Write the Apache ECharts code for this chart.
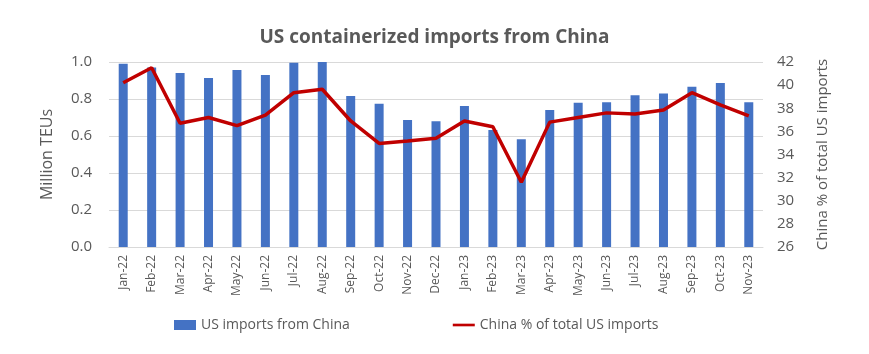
<!DOCTYPE html>
<html><head><meta charset="utf-8">
<script src="https://cdn.jsdelivr.net/npm/echarts@6/dist/echarts.min.js"></script>
<style>html,body{margin:0;padding:0;background:#fff}#c{width:869px;height:354px}</style>
</head><body><div id="c"></div>
<script>
const categories = ["Jan-22","Feb-22","Mar-22","Apr-22","May-22","Jun-22","Jul-22","Aug-22","Sep-22","Oct-22","Nov-22","Dec-22","Jan-23","Feb-23","Mar-23","Apr-23","May-23","Jun-23","Jul-23","Aug-23","Sep-23","Oct-23","Nov-23"];
const importsMillionTEU = [0.99,0.97,0.94,0.913,0.957,0.93,0.996,1.0,0.816,0.774,0.686,0.68,0.762,0.632,0.583,0.74,0.78,0.782,0.82,0.83,0.866,0.886,0.782];
const chinaSharePct = [40.2,41.5,36.7,37.2,36.5,37.4,39.35,39.64,36.9,34.96,35.16,35.4,36.9,36.4,31.6,36.8,37.2,37.6,37.5,37.85,39.35,38.3,37.35];
const leftTicks = {min:0, max:1.0, interval:0.2};
const rightTicks = {min:26, max:42, interval:2};

const font = "'Open Sans', 'Noto Sans', sans-serif";
const chart = echarts.init(document.getElementById('c'), null, {renderer:'canvas'});
chart.setOption({
  animation:false,
  backgroundColor:'#fff',
  title:{text:'US containerized imports from China', left:'center', top:23,
    textStyle:{fontFamily:font, fontSize:19, fontWeight:'bold', color:'#595959'}},
  grid:{left:109, right:106, top:62, bottom:107, containLabel:false},
  legend:{top:313, left:169, itemGap:103, itemWidth:22, itemHeight:10,
    textStyle:{fontFamily:font, fontSize:14, color:'#595959'},
    data:[{name:'US imports from China', icon:'rect'},
          {name:'China % of total US imports', icon:'path://M0,0 L25,0 L25,3 L0,3 Z'}]},
  xAxis:{type:'category', data:categories,
    axisLine:{lineStyle:{color:'#d9d9d9'}}, axisTick:{show:false},
    axisLabel:{rotate:90, interval:0, fontFamily:font, fontSize:12, color:'#595959', margin:8}},
  yAxis:[
    {type:'value', min:leftTicks.min, max:leftTicks.max, interval:leftTicks.interval,
     name:'Million TEUs', nameLocation:'middle', nameGap:54, nameRotate:90,
     nameTextStyle:{fontFamily:font, fontSize:16, color:'#595959'},
     axisLabel:{formatter:v=>v.toFixed(1), fontFamily:font, fontSize:15, color:'#595959', margin:17},
     axisLine:{show:false}, axisTick:{show:false},
     splitLine:{lineStyle:{color:'#d9d9d9'}}},
    {type:'value', min:rightTicks.min, max:rightTicks.max, interval:rightTicks.interval,
     name:'China % of total US imports', nameLocation:'middle', nameGap:52, nameRotate:90,
     nameTextStyle:{fontFamily:font, fontSize:15, color:'#595959'},
     axisLabel:{fontFamily:font, fontSize:15, color:'#595959', margin:14},
     axisLine:{show:false}, axisTick:{show:false}, splitLine:{show:false}}
  ],
  series:[
    {name:'US imports from China', type:'bar', data:importsMillionTEU, barWidth:9,
     itemStyle:{color:'#4472c4'}},
    {name:'China % of total US imports', type:'line', yAxisIndex:1, data:chinaSharePct,
     symbol:'none', lineStyle:{color:'#c00000', width:3.5}, itemStyle:{color:'#c00000'}}
  ]
});
</script></body></html>
